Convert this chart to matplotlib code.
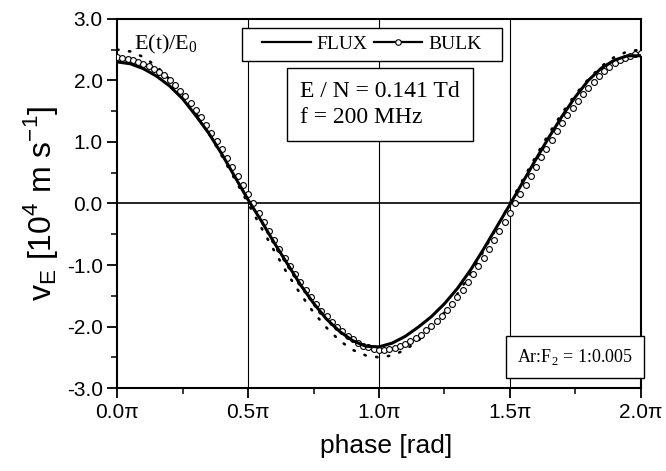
import numpy as np
import matplotlib
matplotlib.use("Agg")
import matplotlib.pyplot as plt
from matplotlib.lines import Line2D
from matplotlib.patches import Rectangle

# phase in units of pi
phase_flux = np.arange(0, 2.0001, 0.05)
flux = [2.30, 2.27, 2.19, 2.07, 1.91, 1.70, 1.43, 1.14, 0.80, 0.43,
        0.06, -0.28, -0.64, -0.98, -1.32, -1.62, -1.88, -2.08, -2.23, -2.32,
        -2.33, -2.27, -2.16, -2.01, -1.84, -1.63, -1.38, -1.08, -0.74, -0.38,
        -0.02, 0.35, 0.72, 1.08, 1.42, 1.73, 2.00, 2.20, 2.33, 2.40,
        2.40]

phase_bulk = np.arange(0, 2.0001, 0.02)
bulk = [2.38, 2.37, 2.35, 2.33, 2.30, 2.27, 2.23, 2.19, 2.14, 2.08,
        2.01, 1.93, 1.83, 1.74, 1.63, 1.52, 1.40, 1.28, 1.15, 1.01,
        0.88, 0.74, 0.59, 0.45, 0.30, 0.15, 0.00, -0.15, -0.30, -0.45,
        -0.59, -0.74, -0.88, -1.01, -1.15, -1.28, -1.40, -1.52, -1.63, -1.74,
        -1.83, -1.93, -2.01, -2.08, -2.15, -2.21, -2.26, -2.31, -2.34, -2.36,
        -2.38, -2.38, -2.37, -2.35, -2.32, -2.28, -2.24, -2.19, -2.13, -2.06,
        -1.99, -1.91, -1.83, -1.73, -1.63, -1.52, -1.40, -1.28, -1.15, -1.01,
        -0.88, -0.74, -0.59, -0.45, -0.30, -0.15, 0.00, 0.15, 0.30, 0.45,
        0.60, 0.75, 0.89, 1.03, 1.17, 1.30, 1.43, 1.55, 1.67, 1.78,
        1.88, 1.98, 2.07, 2.15, 2.22, 2.28, 2.33, 2.37, 2.40, 2.43,
        2.45]

# E(t)/E0 scaled field
phase_field = np.arange(0, 2.0001, 0.05)
field = [2.50, 2.47, 2.38, 2.23, 2.02, 1.77, 1.47, 1.14, 0.77, 0.39,
         0.00, -0.39, -0.77, -1.14, -1.47, -1.77, -2.02, -2.23, -2.38, -2.47,
         -2.50, -2.47, -2.38, -2.23, -2.02, -1.77, -1.47, -1.14, -0.77, -0.39,
         0.00, 0.39, 0.77, 1.14, 1.47, 1.77, 2.02, 2.23, 2.38, 2.47,
         2.50]

xticks = [0, 0.5, 1.0, 1.5, 2.0]
xticklabels = ["0.0\u03c0", "0.5\u03c0", "1.0\u03c0", "1.5\u03c0", "2.0\u03c0"]
yticks = [-3, -2, -1, 0, 1, 2, 3]
yticklabels = ["-3.0", "-2.0", "-1.0", "0.0", "1.0", "2.0", "3.0"]

plt.rcParams['font.family'] = ['Liberation Sans', 'DejaVu Sans']
serif = ['Liberation Serif', 'DejaVu Serif']

fig = plt.figure(figsize=(6.66, 4.71), dpi=100)
ax = fig.add_axes([0.176, 0.176, 0.786, 0.784])

for xv in [0.5, 1.0, 1.5]:
    ax.axvline(xv, color='black', lw=0.8, zorder=1)
ax.axhline(0, color='black', lw=1.2, zorder=1)

ax.plot(phase_field, field, color='black', lw=1.9, linestyle=(0, (0.5, 4)),
        dash_capstyle='round', zorder=2)
ax.plot(phase_bulk, bulk, 'o', mfc='white', mec='black', ms=4.2, mew=0.8, zorder=3)
ax.plot(phase_flux, flux, color='black', lw=2.2, zorder=4)

ax.set_xlim(0, 2.0)
ax.set_ylim(-3, 3)
ax.set_xticks(xticks)
ax.set_xticklabels(xticklabels)
ax.set_yticks(yticks)
ax.set_yticklabels(yticklabels)
ax.set_xticks([0.25, 0.75, 1.25, 1.75], minor=True)
ax.set_yticks([-2.5, -1.5, -0.5, 0.5, 1.5, 2.5], minor=True)
ax.tick_params(which='major', direction='out', length=7, width=1.3, labelsize=15)
ax.tick_params(which='minor', direction='out', length=4, width=1.1)
for s in ax.spines.values():
    s.set_linewidth(1.5)

ax.set_xlabel("phase [rad]", fontsize=19, labelpad=8)
ax.xaxis.set_label_coords(0.513, -0.125)
ax.set_ylabel(r"v$_\mathregular{E}$ [10$^\mathregular{4}$ m s$^\mathregular{-1}$]",
              fontsize=23, labelpad=5)

# legend box
ax.add_patch(Rectangle((0.2385, 0.8865), 0.496, 0.0892, transform=ax.transAxes,
                       fc='white', ec='black', lw=1.0, zorder=5))
handles = [Line2D([], [], color='black', lw=1.6),
           Line2D([], [], color='black', lw=1.6, marker='o', mfc='white',
                  mec='black', ms=4, mew=0.8)]
leg = ax.legend(handles, ["FLUX", "BULK"], ncol=2, loc='center',
                bbox_to_anchor=(0.4865, 0.931), frameon=False,
                prop={'family': serif, 'size': 14},
                handlelength=2.5, handletextpad=0.3, columnspacing=0.3,
                borderpad=0.2, borderaxespad=0.0)
leg.set_zorder(6)

ax.text(0.698, 1.61, "E / N = 0.141 Td\nf = 200 MHz", family=serif, fontsize=17,
        va='center', ha='left', linespacing=1.3, zorder=6,
        bbox=dict(boxstyle='square,pad=0.55', fc='white', ec='black', lw=1.0))
ax.text(0.065, 2.50, r"E(t)/E$_\mathregular{0}$", family=serif, fontsize=16,
        va='baseline', ha='left')
ax.text(1.97, -2.5, r"Ar:F$_\mathregular{2}$ = 1:0.005", family=serif, fontsize=13,
        va='center', ha='right', zorder=6,
        bbox=dict(boxstyle='square,pad=0.6', fc='white', ec='black', lw=1.0))

fig.savefig("out.png", dpi=100)
